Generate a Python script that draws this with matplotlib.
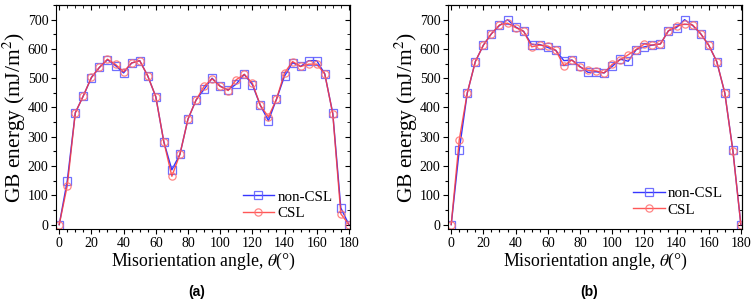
import numpy as np
import matplotlib
matplotlib.use("Agg")
import matplotlib.pyplot as plt
from matplotlib.ticker import MultipleLocator

plt.rcParams['font.family'] = ['Liberation Serif', 'DejaVu Serif']
plt.rcParams['mathtext.fontset'] = 'stix'

angles = list(range(0, 181, 5))

# panel (a)
a_noncsl = [0, 150, 382, 440, 502, 537, 563, 543, 518, 552, 560, 508, 437, 283, 187, 240,
            360, 425, 462, 500, 473, 460, 480, 513, 478, 407, 355, 428, 507, 553, 540, 560,
            560, 515, 380, 57, 0]
a_csl = [0, 133, 382, 440, 503, 537, 565, 547, 522, 552, 560, 508, 437, 283, 165, 240,
         360, 425, 472, 498, 472, 458, 495, 513, 483, 407, 368, 428, 518, 557, 540, 548,
         548, 515, 378, 37, 0]

# panel (b)
b_noncsl = [0, 255, 450, 557, 613, 652, 680, 700, 675, 660, 615, 615, 605, 595, 560, 562,
            540, 520, 522, 518, 540, 565, 558, 598, 607, 613, 617, 662, 673, 700, 680, 652,
            613, 557, 450, 255, 0]
b_csl = [0, 290, 450, 557, 613, 652, 682, 688, 673, 660, 607, 613, 610, 595, 543, 562,
         538, 527, 525, 518, 547, 563, 580, 598, 617, 613, 617, 662, 677, 685, 682, 652,
         613, 557, 450, 253, 0]

# label, series, axes left px, legend anchor
panels = [("(a)", a_noncsl, a_csl, 56, (0.94, 0.04)),
          ("(b)", b_noncsl, b_csl, 448, (0.935, 0.055))]

fig = plt.figure(figsize=(7.51, 3.0), dpi=100)

for label, noncsl, csl, px, anchor in panels:
    ax = fig.add_axes([px / 751, 71 / 300, 294 / 751, 224 / 300])
    ax.plot(angles, noncsl, color='#2020ff', lw=1.0, marker='s', ms=5.2, mfc='none',
            mec='#6060ff', mew=0.9, alpha=0.9, label='non-CSL')
    ax.plot(angles, csl, color='#ff3a3a', lw=1.0, marker='o', ms=5.2, mfc='none',
            mec='#ff7070', mew=0.9, alpha=0.85, label='CSL')
    ax.set_xlim(-2, 180.7)
    ax.set_ylim(-15, 750)
    ax.xaxis.set_major_locator(MultipleLocator(20))
    ax.xaxis.set_minor_locator(MultipleLocator(5))
    ax.yaxis.set_major_locator(MultipleLocator(100))
    ax.yaxis.set_minor_locator(MultipleLocator(50))
    ax.tick_params(which='major', direction='out', length=3.5, width=0.8, labelsize=10, pad=2)
    ax.tick_params(which='minor', direction='out', length=2, width=0.8)

    top = ax.secondary_xaxis('top')
    top.xaxis.set_major_locator(MultipleLocator(20))
    top.xaxis.set_minor_locator(MultipleLocator(5))
    top.tick_params(which='both', direction='in', labeltop=False)
    top.tick_params(which='major', length=3.5)
    top.tick_params(which='minor', length=2)
    right = ax.secondary_yaxis('right')
    right.yaxis.set_major_locator(MultipleLocator(100))
    right.yaxis.set_minor_locator(MultipleLocator(50))
    right.tick_params(which='both', direction='in', labelright=False)
    right.tick_params(which='major', length=3.5)
    right.tick_params(which='minor', length=2)

    ax.set_xlabel(r'Misorientation angle, $\theta$(°)', fontsize=12.8, labelpad=1)
    ax.set_ylabel(r'GB energy (mJ/m$^2$)', fontsize=15.5, labelpad=0)
    ax.legend(loc='lower right', frameon=False, fontsize=10.8, handlelength=2.1,
              handletextpad=0.2, labelspacing=0.2, borderpad=0, borderaxespad=0,
              bbox_to_anchor=anchor)
    ax.text(0.48, -0.25, label, transform=ax.transAxes, ha='center', va='top',
            fontsize=10, fontweight='bold', family='Liberation Sans')

fig.savefig("out.png", dpi=100)
